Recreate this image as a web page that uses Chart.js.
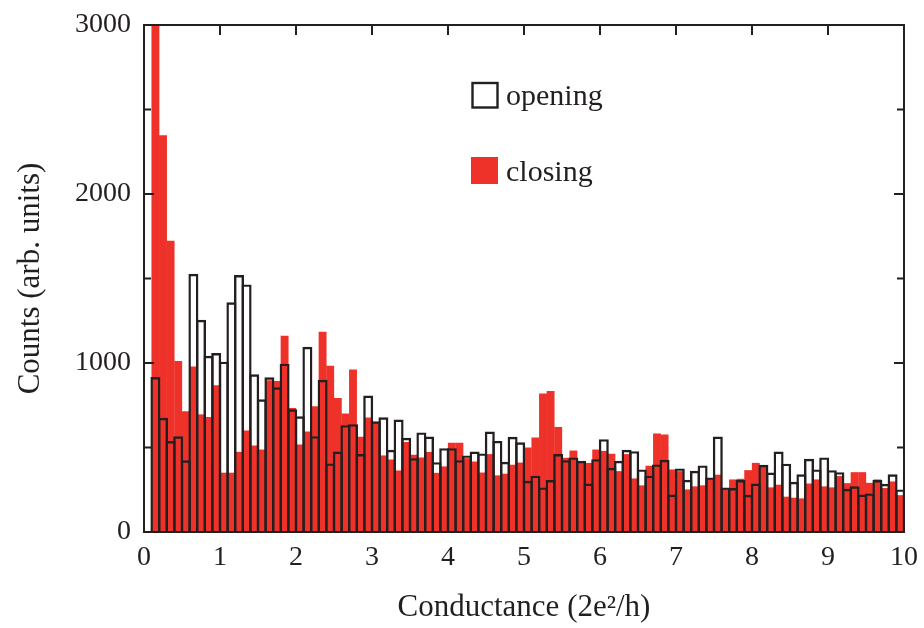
<!DOCTYPE html>
<html>
<head>
<meta charset="utf-8">
<script src="https://cdn.jsdelivr.net/npm/chart.js@4.4.1/dist/chart.umd.min.js"></script>
<style>
html,body{margin:0;padding:0;background:#fff;}
#wrap{width:924px;height:628px;}
</style>
</head>
<body>
<div id="wrap"><canvas id="c" width="924" height="628"></canvas></div>
<script>
// bin centres (bins of width 0.1, from 0.1 to 10.0)
const binCenters = [
  0.15,0.25,0.35,0.45,0.55,0.65,0.75,0.85,0.95,
  1.05,1.15,1.25,1.35,1.45,1.55,1.65,1.75,1.85,1.95,
  2.05,2.15,2.25,2.35,2.45,2.55,2.65,2.75,2.85,2.95,
  3.05,3.15,3.25,3.35,3.45,3.55,3.65,3.75,3.85,3.95,
  4.05,4.15,4.25,4.35,4.45,4.55,4.65,4.75,4.85,4.95,
  5.05,5.15,5.25,5.35,5.45,5.55,5.65,5.75,5.85,5.95,
  6.05,6.15,6.25,6.35,6.45,6.55,6.65,6.75,6.85,6.95,
  7.05,7.15,7.25,7.35,7.45,7.55,7.65,7.75,7.85,7.95,
  8.05,8.15,8.25,8.35,8.45,8.55,8.65,8.75,8.85,8.95,
  9.05,9.15,9.25,9.35,9.45,9.55,9.65,9.75,9.85,9.95
];
const opening = [
  917,676,538,566,424,1528,1256,1043,1059,
  1008,1359,1520,1465,933,785,915,856,996,726,
  685,1096,567,901,406,476,632,638,461,807,
  655,679,486,665,557,437,589,565,413,496,
  496,425,453,476,465,594,539,415,563,531,
  303,333,264,307,461,425,441,421,287,431,
  549,380,421,486,478,370,333,400,427,222,
  376,309,362,394,323,565,264,260,307,220,
  287,398,352,476,404,297,341,433,370,441,
  366,354,256,270,222,228,307,285,341,252
];
const closing = [
  3000,2347,1723,1012,714,980,696,680,868,
  351,351,474,600,512,488,898,893,1161,734,
  518,594,744,1185,984,793,701,961,563,677,
  646,453,429,364,533,457,441,474,350,388,
  528,528,437,417,352,461,335,345,398,411,
  500,559,819,835,622,439,482,415,409,488,
  480,463,360,461,317,276,392,583,577,370,
  360,252,270,276,317,339,256,311,315,366,
  409,390,264,280,209,203,199,287,311,270,
  264,331,289,354,354,291,311,260,299,218
];
const seriesNames = ['opening', 'closing'];
const xTicks = [0,1,2,3,4,5,6,7,8,9,10];
const yTicks = [0,1000,2000,3000];
const yMinorTicks = [500,1500,2500];
const xTitle = 'Conductance (2e\u00B2/h)';
const yTitle = 'Counts (arb. units)';

const INK = '#231f20';
const RED = '#ee3229';
const FONT = "'Liberation Serif', 'Times New Roman', serif";

const framePlugin = {
  id: 'frame',
  afterDatasetsDraw(chart) {
    const {ctx, chartArea: a, scales: {x, y}} = chart;
    ctx.save();
    ctx.strokeStyle = INK;
    ctx.lineWidth = 2;
    ctx.strokeRect(a.left, a.top, a.right - a.left, a.bottom - a.top);
    ctx.beginPath();
    const maj = 10, mn = 7;
    xTicks.forEach(v => {
      const p = x.getPixelForValue(v);
      ctx.moveTo(p, a.bottom); ctx.lineTo(p, a.bottom - maj);
      ctx.moveTo(p, a.top); ctx.lineTo(p, a.top + maj);
    });
    yTicks.forEach(v => {
      const p = y.getPixelForValue(v);
      ctx.moveTo(a.left, p); ctx.lineTo(a.left + maj, p);
      ctx.moveTo(a.right, p); ctx.lineTo(a.right - maj, p);
    });
    yMinorTicks.forEach(v => {
      const p = y.getPixelForValue(v);
      ctx.moveTo(a.left, p); ctx.lineTo(a.left + mn, p);
      ctx.moveTo(a.right, p); ctx.lineTo(a.right - mn, p);
    });
    ctx.stroke();
    ctx.restore();
  }
};

const legendPlugin = {
  id: 'customLegend',
  afterDraw(chart) {
    const {ctx} = chart;
    ctx.save();
    ctx.font = "30px " + FONT;
    ctx.fillStyle = INK;
    ctx.textBaseline = 'alphabetic';
    ctx.textAlign = 'left';
    ctx.strokeStyle = INK;
    ctx.lineWidth = 2.4;
    ctx.strokeRect(472.5, 83, 25, 24.5);
    ctx.fillText(seriesNames[0], 506, 105);
    ctx.fillStyle = RED;
    ctx.fillRect(471, 157, 27, 27);
    ctx.fillStyle = INK;
    ctx.fillText(seriesNames[1], 506, 181);
    ctx.restore();
  }
};

new Chart(document.getElementById('c'), {
  type: 'bar',
  data: {
    datasets: [
      {
        label: seriesNames[0],
        data: binCenters.map((c, i) => ({x: c, y: opening[i]})),
        backgroundColor: 'rgba(0,0,0,0)',
        borderColor: INK,
        borderWidth: 2.4,
        borderSkipped: 'start',
        barPercentage: 1.316,
        categoryPercentage: 1,
        grouped: false,
        order: 0
      },
      {
        label: seriesNames[1],
        data: binCenters.map((c, i) => ({x: c, y: closing[i]})),
        backgroundColor: RED,
        borderWidth: 0,
        barPercentage: 1.04,
        categoryPercentage: 1,
        grouped: false,
        order: 1
      }
    ]
  },
  options: {
    responsive: false,
    animation: false,
    devicePixelRatio: 1,
    layout: { padding: { left: 0, top: 25, right: 20, bottom: 0 } },
    plugins: {
      legend: { display: false },
      tooltip: { enabled: false }
    },
    scales: {
      x: {
        type: 'linear',
        min: 0, max: 10,
        offset: false,
        grid: { display: false, drawTicks: false, offset: false },
        border: { display: false },
        afterBuildTicks: s => { s.ticks = xTicks.map(v => ({value: v})); },
        afterFit: s => { s.height = 96; s.paddingLeft = 0; s.paddingRight = 0; },
        ticks: {
          color: INK,
          font: { family: FONT, size: 28 },
          padding: 9,
          maxRotation: 0,
          autoSkip: false,
          callback: v => String(v)
        },
        title: {
          display: true,
          text: xTitle,
          color: INK,
          font: { family: FONT, size: 31 },
          padding: { top: 0, bottom: 2 }
        }
      },
      y: {
        type: 'linear',
        min: 0, max: 3000,
        grid: { display: false, drawTicks: false },
        border: { display: false },
        afterBuildTicks: s => { s.ticks = yTicks.map(v => ({value: v})); },
        afterFit: s => { s.width = 144; s.paddingTop = 0; s.paddingBottom = 0; },
        ticks: {
          color: INK,
          font: { family: FONT, size: 28 },
          padding: 13,
          callback: v => String(v)
        },
        title: {
          display: true,
          text: yTitle,
          color: INK,
          font: { family: FONT, size: 31 },
          padding: { top: 12, bottom: 0 }
        }
      }
    }
  },
  plugins: [framePlugin, legendPlugin]
});
</script>
</body>
</html>
